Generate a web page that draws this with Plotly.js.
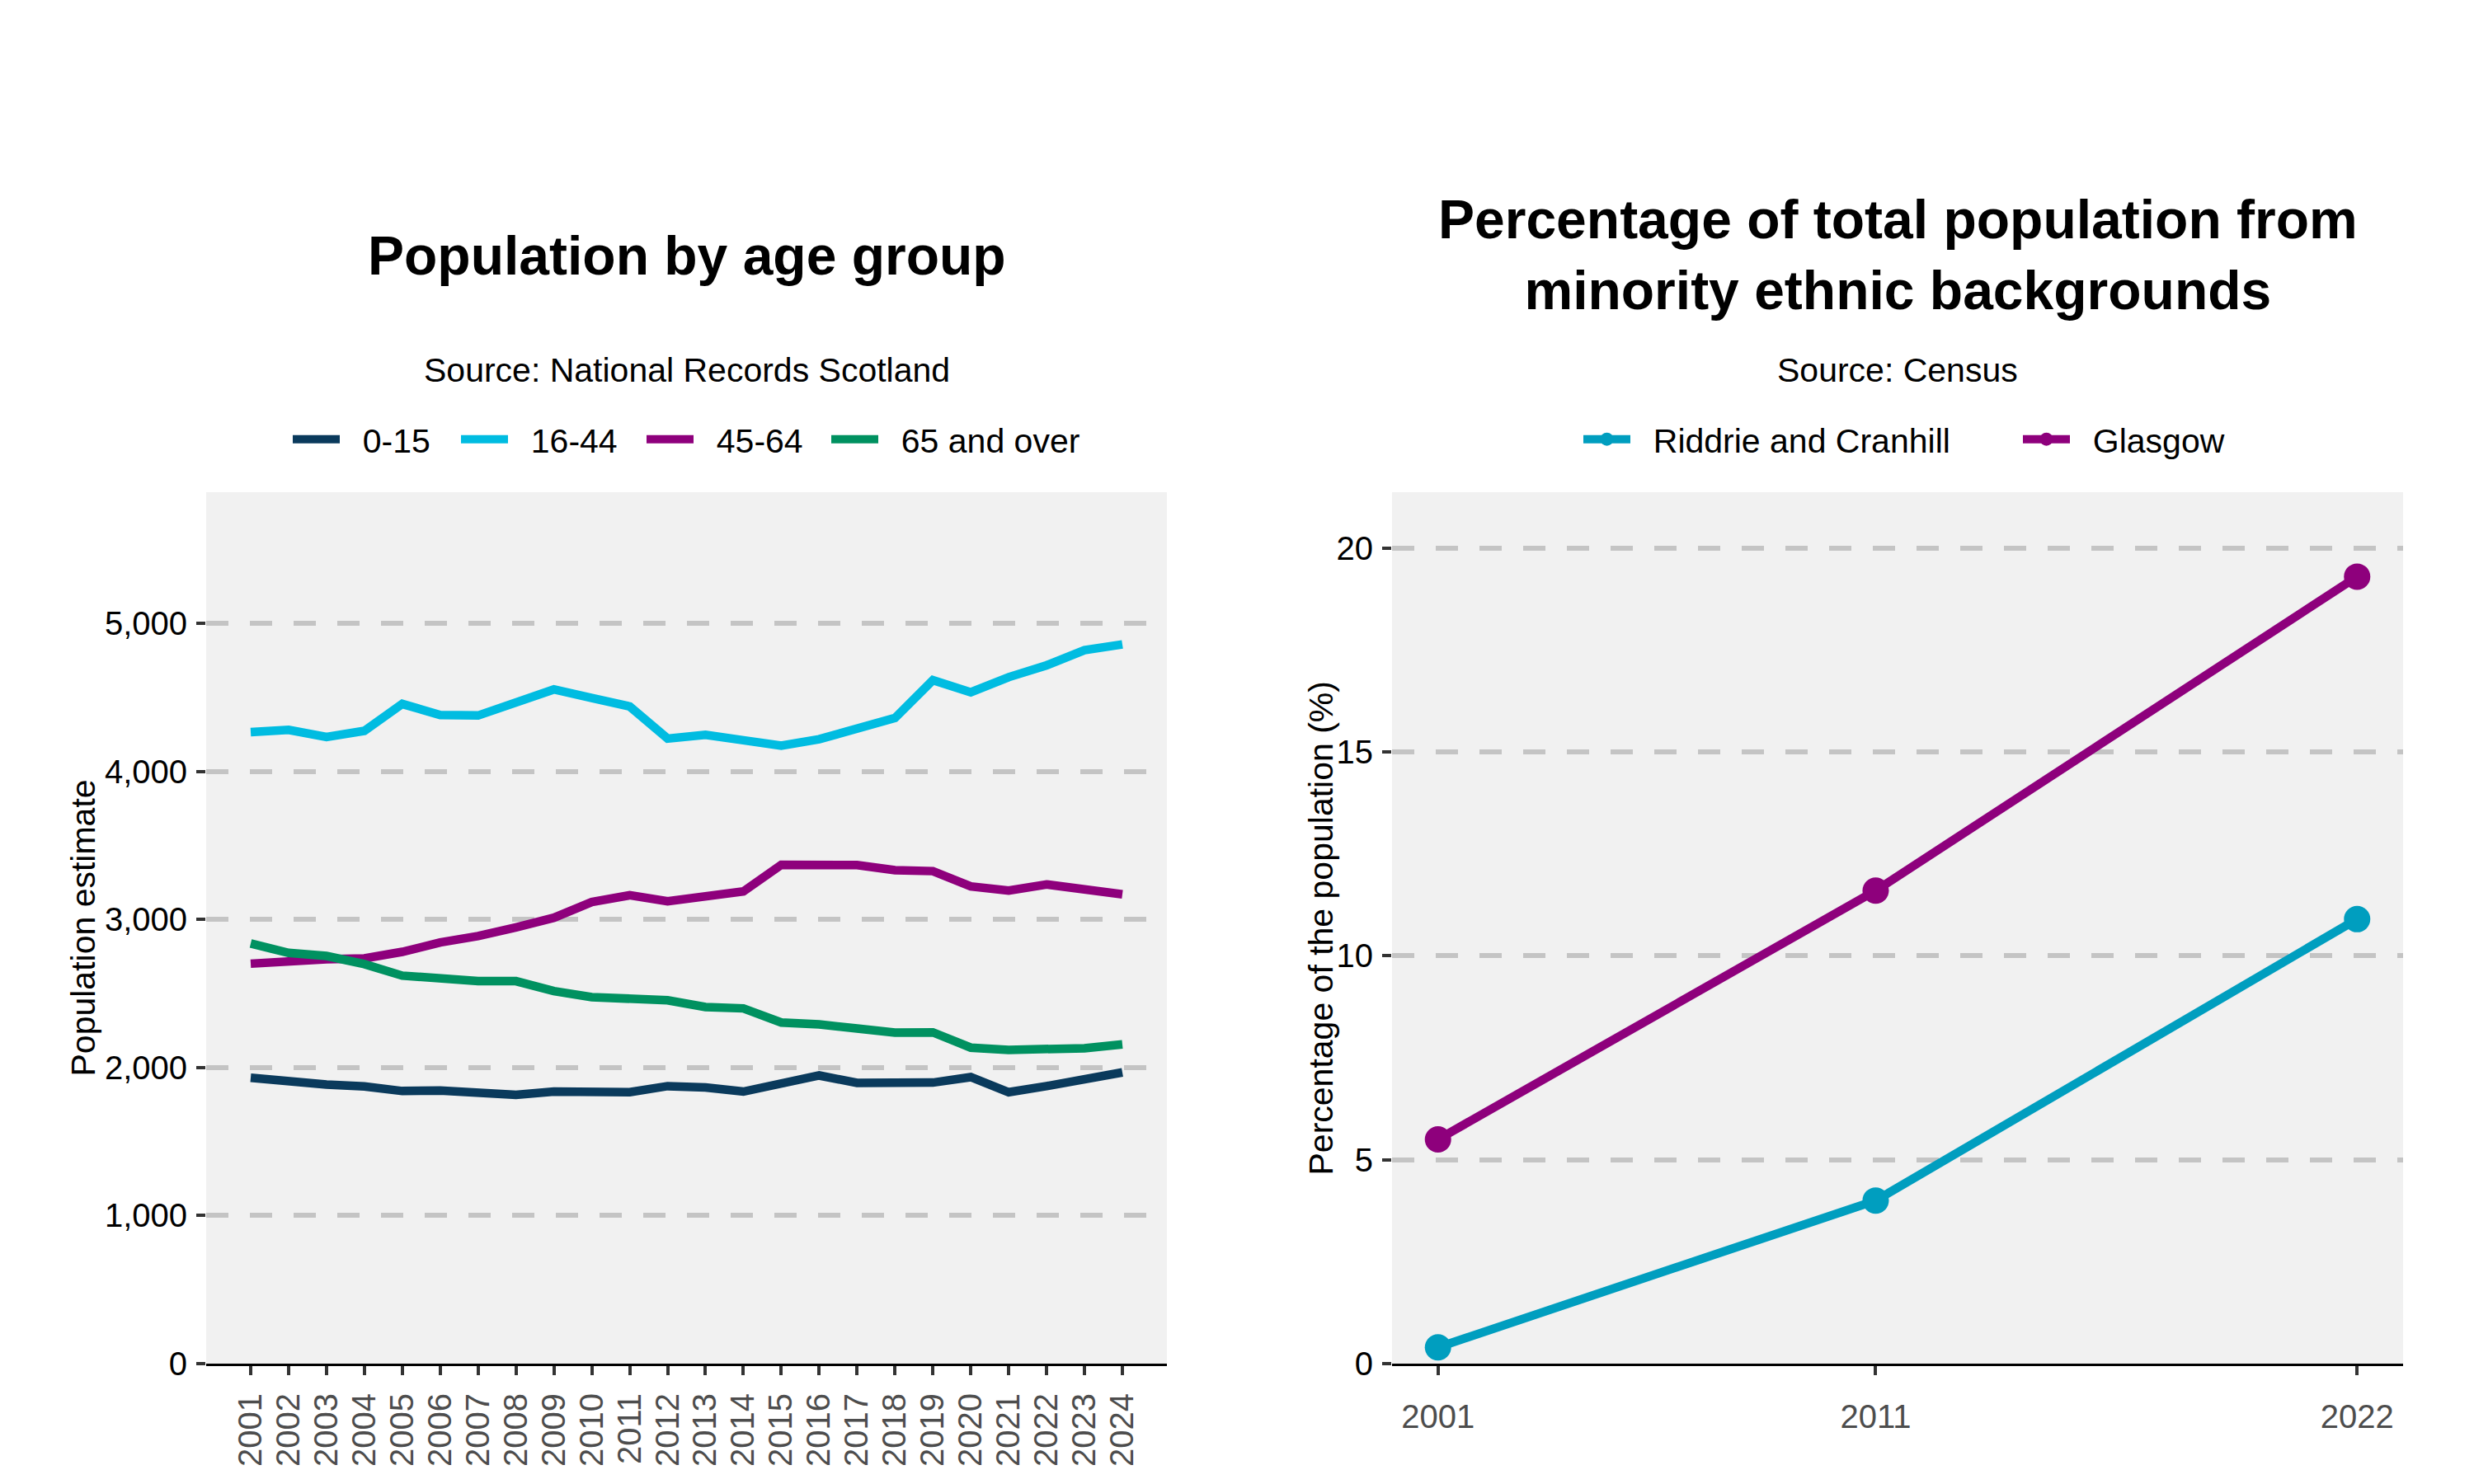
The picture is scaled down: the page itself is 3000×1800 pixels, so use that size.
<!DOCTYPE html>
<html>
<head>
<meta charset="utf-8">
<script src="https://cdn.plot.ly/plotly-3.0.1.min.js"></script>
<style>
  body { margin: 0; background: white; }
  #chart { width: 3000px; height: 1800px; }
</style>
</head>
<body>
<div id="chart"></div>
<script>
// Population by age group (National Records Scotland)
const years = [2001, 2002, 2003, 2004, 2005, 2006, 2007, 2008, 2009, 2010, 2011, 2012,
               2013, 2014, 2015, 2016, 2017, 2018, 2019, 2020, 2021, 2022, 2023, 2024];
const age0to15 = [1931, 1905, 1885, 1872, 1841, 1844, 1829, 1815, 1837, 1833, 1833, 1874,
                  1865, 1837, 1885, 1946, 1896, 1896, 1898, 1935, 1833, 1874, 1926, 1967];
const age16to44 = [4265, 4280, 4232, 4273, 4455, 4380, 4377, 4470, 4553, 4495, 4438, 4221,
                   4247, 4210, 4173, 4217, 4289, 4360, 4616, 4534, 4636, 4716, 4818, 4857];
const age45to64 = [2701, 2718, 2731, 2737, 2781, 2844, 2887, 2946, 3011, 3117, 3163, 3122,
                   3161, 3189, 3369, 3369, 3367, 3332, 3326, 3223, 3195, 3236, 3199, 3169];
const age65plus = [2837, 2774, 2753, 2698, 2620, 2597, 2584, 2583, 2516, 2475, 2460, 2454,
                   2408, 2399, 2304, 2291, 2263, 2236, 2237, 2134, 2119, 2119, 2130, 2156];
const ageGroups = ["0-15", "16-44", "45-64", "65 and over"];
const popTicks = [0, 1000, 2000, 3000, 4000, 5000];

// Minority ethnic share (Census)
const censusYears = [2001, 2011, 2022];
const riddrie = [0.4, 4.0, 10.9];
const glasgow = [5.5, 11.6, 19.3];
const areas = ["Riddrie and Cranhill", "Glasgow"];
const pctTicks = [0, 5, 10, 15, 20];

const FONT = "Liberation Sans, Arial, Helvetica, sans-serif";
const W = 3000;
const H = 1800;
const PAD = "\u00a0\u00a0"; // plotly leaves almost no gap between key and label

function px(x) { return x / W; }
function py(y) { return 1 - y / H; }

function lineTrace(x, y, name, color, xa, ya, legend, markers)
{
  const t = {
    x, y,
    name: PAD + name,
    type: "scatter",
    mode: markers ? "lines+markers" : "lines",
    xaxis: xa,
    yaxis: ya,
    legend,
    line: {color, width: 10.5},
    hoverinfo: "skip"
  };
  if (markers)
    t.marker = {color, size: 32};
  return t;
}

function yAxis(ticks, fmt, range, anchor)
{
  return {
    anchor,
    domain: [py(1654), py(597)],
    range,
    tickvals: ticks,
    tickformat: fmt,
    ticks: "outside",
    ticklen: 11,
    tickwidth: 4,
    tickcolor: "#333333",
    ticklabelstandoff: 3,
    tickfont: {family: FONT, size: 40, color: "#000000"},
    showgrid: true,
    gridcolor: "#c4c4c4",
    gridwidth: 6,
    griddash: "27px,26px",
    zeroline: false,
    showline: false,
    fixedrange: true
  };
}

function legendBox(symbolX)
{
  // one legend per entry so each sits where the reference has it
  return {
    orientation: "h",
    x: px(symbolX - 7), xanchor: "left",
    y: py(533), yanchor: "middle",
    bgcolor: "rgba(0,0,0,0)",
    itemwidth: 57,
    font: {family: FONT, size: 41, color: "#000"}
  };
}

function note(text, x, y, size, angle)
{
  return {
    text, x: px(x), y: py(y),
    xref: "paper", yref: "paper", xanchor: "center", yanchor: "middle",
    textangle: angle || 0,
    showarrow: false,
    font: {family: FONT, size, color: "#000"}
  };
}

function main()
{
  const div = document.getElementById("chart");
  const colors = ["#0a3a5c", "#00bce1", "#8e007c", "#009160"];
  const series = [age0to15, age16to44, age45to64, age65plus];
  const legendNames = ["legend", "legend2", "legend3", "legend4", "legend5", "legend6"];

  const traces = series.map((s, i) =>
    lineTrace(years, s, ageGroups[i], colors[i], "x", "y", legendNames[i], false));
  traces.push(lineTrace(censusYears, riddrie, areas[0], "#009ebf", "x2", "y2", legendNames[4], true));
  traces.push(lineTrace(censusYears, glasgow, areas[1], "#8e007c", "x2", "y2", legendNames[5], true));

  const xCommon = {
    ticks: "outside",
    ticklen: 11,
    tickwidth: 4,
    tickcolor: "#333333",
    tickfont: {family: FONT, size: 40, color: "#4d4d4d"},
    showgrid: false,
    zeroline: false,
    showline: true,
    linecolor: "#000000",
    linewidth: 3,
    fixedrange: true
  };

  const leftCenter = (250 + 1415) / 2;
  const rightCenter = (1688 + 2914) / 2;
  const panelMid = (597 + 1654) / 2;

  const layout = {
    width: W,
    height: H,
    margin: {l: 0, r: 0, t: 0, b: 0},
    paper_bgcolor: "#ffffff",
    plot_bgcolor: "#f1f1f1",
    font: {family: FONT, size: 41, color: "#000"},
    showlegend: true,
    xaxis: Object.assign({}, xCommon, {
      anchor: "y",
      domain: [px(250), px(1415)],
      range: [1999.825, 2025.175],
      tickvals: years,
      tickangle: -90,
      ticklabelstandoff: 6
    }),
    yaxis: yAxis(popTicks, ",d", [0, 5885], "x"),
    xaxis2: Object.assign({}, xCommon, {
      anchor: "y2",
      domain: [px(1688), px(2914)],
      range: [1999.95, 2023.05],
      tickvals: censusYears,
      tickangle: 0,
      ticklabelstandoff: 16
    }),
    yaxis2: yAxis(pctTicks, "d", [0, 21.37], "x2"),
    legend: legendBox(357),
    legend2: legendBox(561),
    legend3: legendBox(786),
    legend4: legendBox(1010),
    legend5: legendBox(1922),
    legend6: legendBox(2455),
    annotations: [
      note("<b>Population by age group</b>", leftCenter, 310, 66),
      note("Source: National Records Scotland", leftCenter, 449, 41),
      note("<b>Percentage of total population from<br>minority ethnic backgrounds</b>", rightCenter, 309, 66),
      note("Source: Census", rightCenter, 449, 41),
      note("Population estimate", 100, panelMid, 41, -90),
      note("Percentage of the population (%)", 1601, panelMid, 41, -90)
    ]
  };

  Plotly.newPlot(div, traces, layout, {displayModeBar: false, staticPlot: true});
}

main();
</script>
</body>
</html>
